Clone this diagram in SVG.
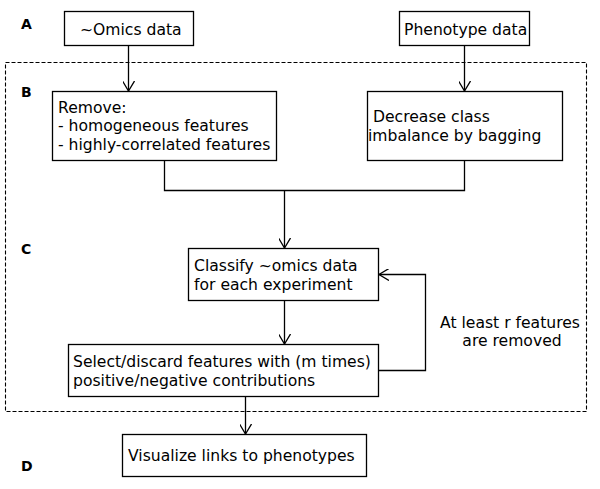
<svg xmlns="http://www.w3.org/2000/svg" width="600" height="489" viewBox="0 0 600 489">
<defs>
<marker id="arr" viewBox="0 0 10 12" refX="10" refY="6" markerWidth="10" markerHeight="12" markerUnits="userSpaceOnUse" orient="auto">
<path d="M0,0 L10,6 L0,12" fill="none" stroke="#000" stroke-width="1.3"/>
</marker>
<style>
.box{fill:#fff;stroke:#000;stroke-width:1.3}
.t{font-family:"DejaVu Sans","Liberation Sans",sans-serif;font-size:15.6px;fill:#000}
.lbl{font-family:"DejaVu Sans","Liberation Sans",sans-serif;font-size:14px;font-weight:bold;fill:#000}
.c{fill:none;stroke:#000;stroke-width:1.3}
</style>
</defs>
<rect x="0" y="0" width="600" height="489" fill="#fff"/>
<rect x="5.5" y="62.5" width="581" height="349" fill="none" stroke="#000" stroke-width="1.1" stroke-dasharray="4,2"/>
<g id="labels">
<text class="lbl" x="21" y="29">A</text>
<text class="lbl" x="21" y="97">B</text>
<text class="lbl" x="21" y="254">C</text>
<text class="lbl" x="21" y="471">D</text>
</g>
<g id="connectors">
<path class="c" d="M128.5,46 V91" marker-end="url(#arr)"/>
<path class="c" d="M464.5,46 V91" marker-end="url(#arr)"/>
<path class="c" d="M164.5,161 V190.5 H464.5 V161"/>
<path class="c" d="M284.5,190.5 V248" marker-end="url(#arr)"/>
<path class="c" d="M284.5,301 V344" marker-end="url(#arr)"/>
<path class="c" d="M245.5,397 V434" marker-end="url(#arr)"/>
<path class="c" d="M379,370.5 H425.5 V274.5 H379" marker-end="url(#arr)"/>
</g>
<g id="omics">
<rect class="box" x="64.5" y="11.5" width="129" height="34"/>
<text class="t" x="80" y="35">~Omics data</text>
</g>
<g id="phenotype">
<rect class="box" x="399.5" y="11.5" width="130" height="34"/>
<text class="t" x="404" y="35">Phenotype data</text>
</g>
<g id="remove">
<rect class="box" x="52.5" y="91.5" width="224" height="69"/>
<text class="t" x="58" y="113">Remove:</text>
<text class="t" x="58" y="131">- homogeneous features</text>
<text class="t" x="58" y="150">- highly-correlated features</text>
</g>
<g id="decrease">
<rect class="box" x="367.5" y="91.5" width="195" height="69"/>
<text class="t" x="373" y="122">Decrease class</text>
<text class="t" x="368" y="141">imbalance by bagging</text>
</g>
<g id="classify">
<rect class="box" x="188.5" y="248.5" width="190" height="52"/>
<text class="t" x="194" y="271">Classify ~omics data</text>
<text class="t" x="194" y="290">for each experiment</text>
</g>
<g id="select">
<rect class="box" x="68.5" y="344.5" width="310" height="52"/>
<text class="t" x="73" y="367">Select/discard features with (m times)</text>
<text class="t" x="73" y="386">positive/negative contributions</text>
</g>
<g id="loop-label">
<text class="t" x="510" y="328" text-anchor="middle">At least r features</text>
<text class="t" x="512" y="346" text-anchor="middle">are removed</text>
</g>
<g id="visualize">
<rect class="box" x="122.5" y="434.5" width="244" height="42"/>
<text class="t" x="128" y="461">Visualize links to phenotypes</text>
</g>
</svg>
